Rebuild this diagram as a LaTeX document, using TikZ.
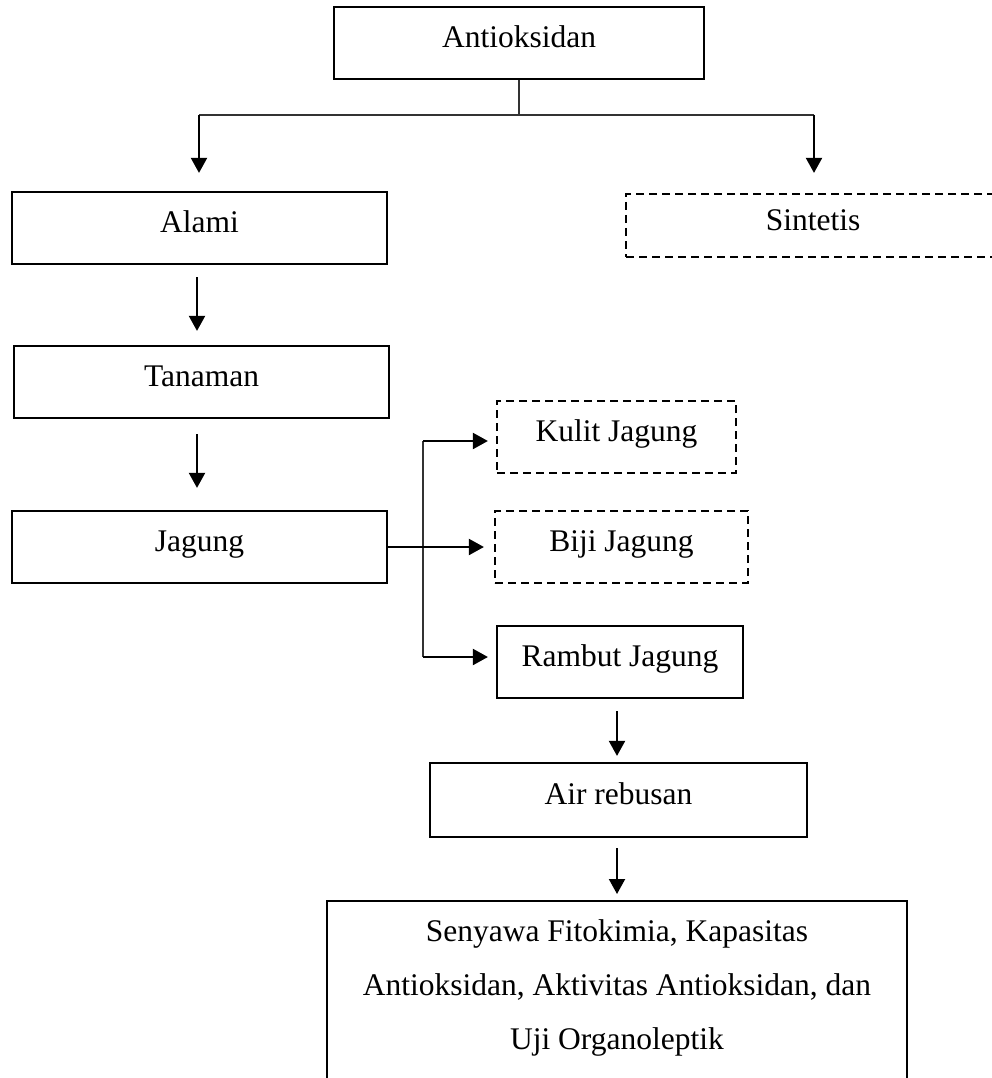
\documentclass[tikz,border=0pt]{standalone}
\usepackage{fontspec}
\setmainfont{Liberation Serif}
\usetikzlibrary{arrows.meta}
\newcommand{\bfnt}{\fontsize{31.5pt}{54pt}\selectfont}
\tikzset{
  box/.style={draw, line width=2.2pt, text height=21pt, text depth=12pt, inner sep=0pt, font=\bfnt},
  dbox/.style={box, dash pattern=on 8pt off 5pt},
  resbox/.style={draw, line width=2.2pt, align=center, inner xsep=0pt, inner ysep=18.7pt, font=\bfnt, anchor=north},
  arr/.style={line width=2pt, -{Triangle[length=15pt,width=16pt]}},
  thinline/.style={line width=1.2pt, draw=black!80}
}
\begin{document}
\begin{tikzpicture}[x=1pt,y=-1pt]
\useasboundingbox (0,0) rectangle (992,1078);

\node[box, minimum width=370pt, minimum height=72pt] (ant) at (519,43) {Antioksidan};
\node[box, minimum width=375pt, minimum height=72pt] (alami) at (199.5,228) {Alami};
\node[dbox, minimum width=374pt, minimum height=63pt] (sint) at (813,225.5) {Sintetis};
\node[box, minimum width=375pt, minimum height=72pt] (tan) at (201.5,382) {Tanaman};
\node[box, minimum width=375pt, minimum height=72pt] (jag) at (199.5,547) {Jagung};
\node[dbox, minimum width=239pt, minimum height=72pt] (kulit) at (616.5,437) {Kulit Jagung};
\node[dbox, minimum width=253pt, minimum height=72pt] (biji) at (621.5,547) {Biji Jagung};
\node[box, minimum width=246pt, minimum height=72pt] (rambut) at (620,662) {Rambut Jagung};
\node[box, minimum width=377pt, minimum height=74pt] (air) at (618.5,800) {Air rebusan};
\node[resbox, minimum width=580pt] (res) at (617,900) {Senyawa Fitokimia, Kapasitas\\Antioksidan, Aktivitas Antioksidan, dan\\Uji Organoleptik\rule[-40pt]{0pt}{40pt}};

% top split
\coordinate (h1) at (199,115);
\coordinate (h2) at (814,115);
\draw[thinline] (ant.south) -- (ant.south |- h1);
\draw[thinline] (h1) -- (h2);
\draw[arr, shorten >=18pt] (h1) -- (h1 |- alami.north);
\draw[arr, shorten >=20pt] (h2) -- (h2 |- sint.north);

% left column
\coordinate (c197) at (197,0);
\draw[arr, shorten <=12pt, shorten >=14pt] (alami.south -| c197) -- (tan.north -| c197);
\draw[arr, shorten <=15pt, shorten >=22pt] (tan.south -| c197) -- (jag.north -| c197);

% jagung branches
\coordinate (vt) at (423,441);
\coordinate (vb) at (423,657);
\draw[thinline] (vt) -- (vb);
\draw[arr, shorten >=8pt] (vt) -- (kulit.west |- vt);
\draw[arr, shorten >=8pt] (vb) -- (rambut.west |- vb);
\draw[arr, shorten >=10pt] (jag.east) -- (biji.west |- jag.east);

% bottom chain
\coordinate (c617) at (617,0);
\draw[arr, shorten <=12pt, shorten >=6pt] (rambut.south -| c617) -- (air.north -| c617);
\draw[arr, shorten <=10pt, shorten >=6pt] (air.south -| c617) -- (res.north -| c617);
\end{tikzpicture}
\end{document}
